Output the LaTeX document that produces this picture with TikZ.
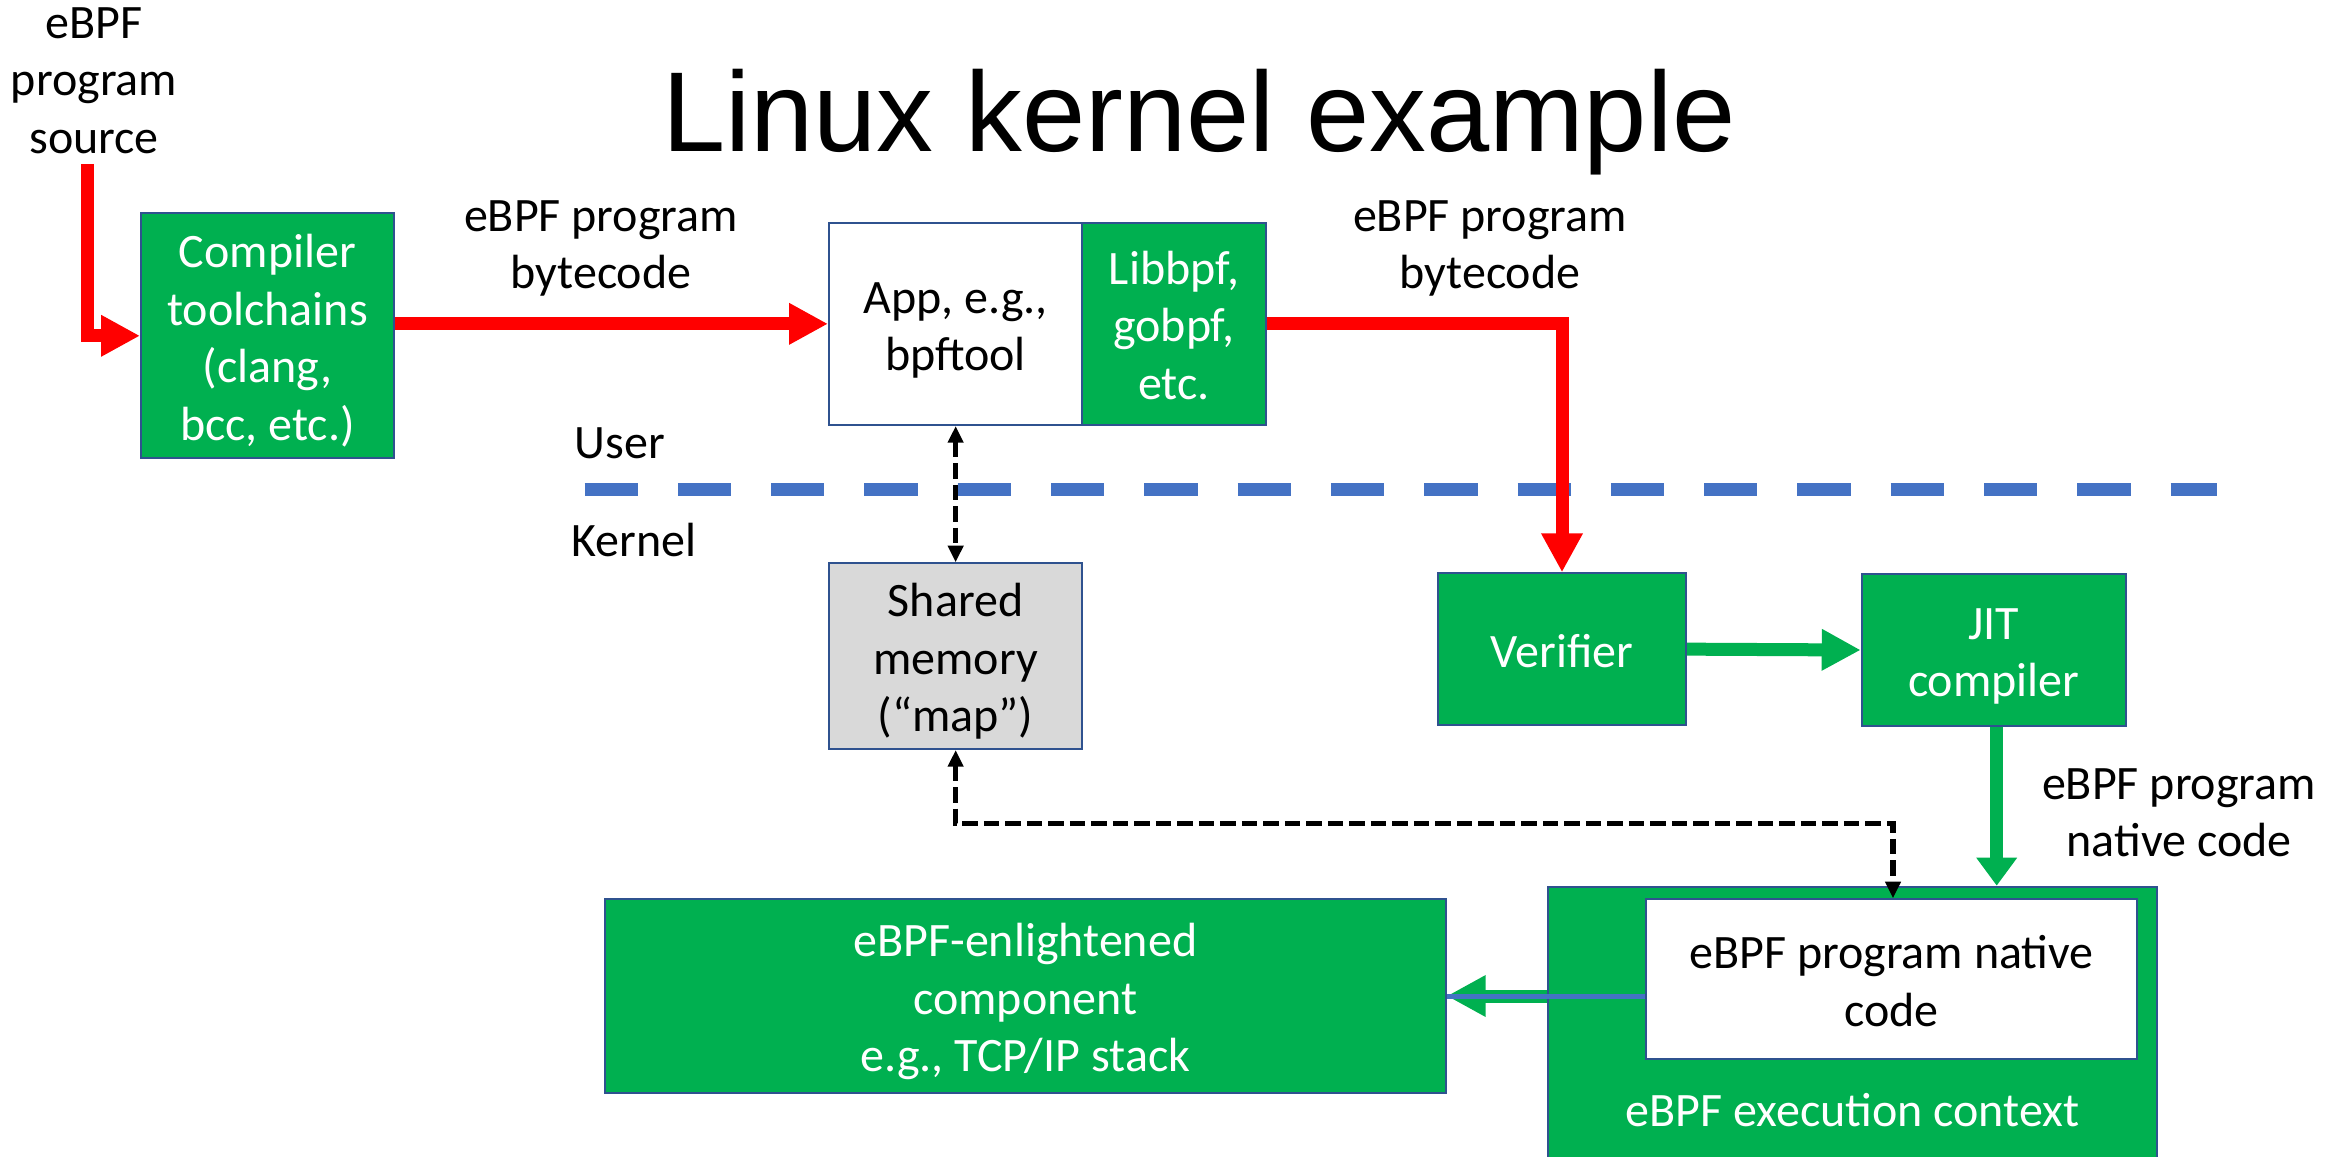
\documentclass[tikz,border=0pt]{standalone}
\usepackage{fontspec}
\setmainfont{Carlito}
\newfontfamily\titlefont{Liberation Sans}
\usetikzlibrary{arrows.meta}
\definecolor{eg}{HTML}{00B050}
\definecolor{bdr}{HTML}{2F528F}
\definecolor{sepblue}{HTML}{4472C4}
\definecolor{shmgray}{HTML}{D9D9D9}
\newcommand\ST{\rule[-10.5pt]{0pt}{57.4pt}}
\newcommand\bodyfont{\fontsize{48}{57.4}\selectfont}
\begin{document}
\begin{tikzpicture}[x=1pt,y=-1pt,
  box/.style={draw=bdr, line width=2pt, align=center, font=\bodyfont, inner sep=0pt},
  gbox/.style={box, fill=eg, text=white},
  wbox/.style={box, fill=white, text=black},
  lbl/.style={align=center, font=\bodyfont, inner sep=0pt},
  bigtip/.style={-{Triangle[length=39pt,width=39pt]}},
  redarrow/.style={draw=red, line width=13pt, bigtip},
  greenarrow/.style={draw=eg, line width=13pt, bigtip},
  kdash/.style={draw=black, line width=5.5pt, dash pattern=on 15.5pt off 6pt, {Triangle[length=16.7pt,width=15pt]}-{Triangle[length=16.7pt,width=15pt]}},
  sep/.style={draw=sepblue, line width=13.3pt, dash pattern=on 53.3pt off 40pt}
]
\useasboundingbox (0,0) rectangle (2344,1156);

% title
\node[font={\titlefont\fontsize{113.6}{136}\selectfont}, anchor=base, inner sep=0pt] (title) at (1199,151) {Linux kernel example};

% free labels
\node[lbl] (src) at (94,77.6) {\ST eBPF\\\ST program\\\ST source};
\node[lbl] (bc1) at (601,241.8) {\ST eBPF program\\\ST bytecode};
\node[lbl] (bc2) at (1490,241.8) {\ST eBPF program\\\ST bytecode};
\node[lbl] (nc) at (2179,809.8) {\ST eBPF program\\\ST native code};
\node[lbl] (user) at (620,443) {User};
\node[lbl] (kernel) at (634,540) {Kernel};

% separator
\coordinate (sepL) at (584.5,489.5);
\coordinate (sepR) at (2216.7,489.5);
\draw[sep] (sepL) -- (sepR);

% boxes
\node[gbox, minimum width=253pt, minimum height=245pt] (comp) at (267.5,335.8) {\ST Compiler\\\ST toolchains\\\ST (clang,\\\ST bcc, etc.)};
\node[wbox, minimum width=253.3pt, minimum height=202.3pt] (app) at (955.65,323.85) {\ST App, e.g.,\\\ST bpftool};
\node[gbox, minimum width=183.4pt, minimum height=202pt] (lib) at (1174,323.5) {\ST Libbpf,\\\ST gobpf,\\\ST etc.};
\node[box, fill=shmgray, minimum width=253.3pt, minimum height=185.7pt] (shm) at (955.65,656.15) {\ST Shared\\\ST memory\\\ST (“map”)};
\node[gbox, minimum width=248pt, minimum height=151.7pt] (ver) at (1562,649.15) {\ST Verifier};
\node[gbox, minimum width=264pt, minimum height=152pt] (jit) at (1993.7,650) {\ST JIT\\\ST compiler};
\node[gbox, minimum width=609pt, minimum height=283.3pt] (ctx) at (1852.8,1028.35) {};
\node[wbox, minimum width=491.6pt, minimum height=160pt] (inner) at (1891.5,979.3) {\ST eBPF program native\\\ST code};
\node[lbl, text=white] (ctxlbl) at (1852.5,1107.8) {\ST eBPF execution context};
\node[gbox, minimum width=840.7pt, minimum height=193.4pt] (enl) at (1025.35,996) {\ST eBPF-enlightened\\\ST component\\\ST e.g., TCP/IP stack};

% connectors
\draw[redarrow] ([xshift=-7pt]src.south) |- (comp.west);
\draw[redarrow] (comp.east |- app.west) -- (app.west);
\draw[redarrow] (lib.east) -| (ver.north);
\draw[greenarrow] (ver.east) -- (jit.west);
\draw[draw=eg, line width=13pt, -{Triangle[length=28pt,width=39pt]}] ([xshift=3pt]jit.south) -- ([xshift=3pt]jit.south |- ctx.north);
\draw[greenarrow] (ctx.west |- enl.east) -- (enl.east);
\draw[draw=sepblue, line width=5pt] (inner.west |- enl.east) -- (enl.east);
\draw[kdash] (app.south) -- (shm.north);
\coordinate (turn) at (1893,823.5);
\draw[kdash] (shm.south) |- (turn) -- (turn |- inner.north);
\end{tikzpicture}
\end{document}
